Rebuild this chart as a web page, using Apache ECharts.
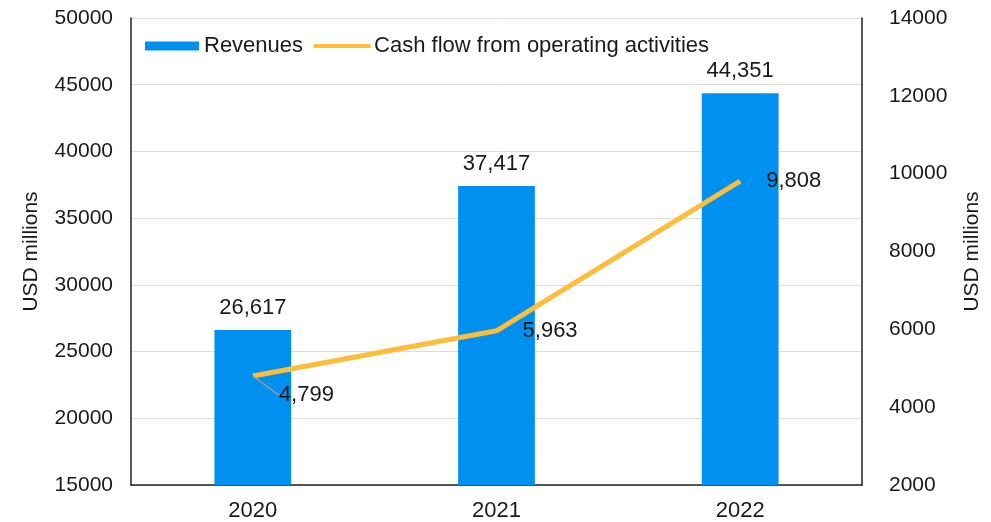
<!DOCTYPE html>
<html>
<head>
<meta charset="utf-8">
<script src="https://cdn.jsdelivr.net/npm/echarts@6/dist/echarts.min.js"></script>
<style>
  html, body { margin: 0; padding: 0; background: #fff; }
  #chart { width: 991px; height: 522px; }
</style>
</head>
<body>
<div id="chart"></div>
<script>
const years = ["2020", "2021", "2022"];
const revenues = [26617, 37417, 44351];
const cashFlow = [4799, 5963, 9808];

const font = "Liberation Sans, Arial, sans-serif";
const fmt = v => v.toLocaleString("en-US");
const txt = "#1a1a1a";

// only the first cash-flow label is pulled down with a leader line
const cashFlowData = cashFlow.map((v, i) => ({
  value: v,
  labelLine: { show: i === 0 }
}));

const chart = echarts.init(document.getElementById("chart"));
chart.setOption({
  animation: false,
  textStyle: { fontFamily: font },
  grid: { left: 131, right: 128, top: 18, bottom: 37 },
  legend: {
    left: 140,
    top: 30,
    itemGap: 10,
    itemWidth: 54,
    itemHeight: 9,
    textStyle: { fontSize: 22, color: txt, fontFamily: font },
    data: [
      { name: "Revenues", icon: "rect" },
      {
        name: "Cash flow from operating activities",
        itemStyle: { opacity: 0 },
        lineStyle: { width: 4, cap: "round" }
      }
    ]
  },
  xAxis: {
    type: "category",
    data: years,
    axisLine: { lineStyle: { color: "#222", width: 1.5 } },
    axisTick: { show: false },
    axisLabel: { fontSize: 22, color: txt, margin: 15 }
  },
  yAxis: [
    {
      type: "value",
      min: 15000,
      max: 50000,
      interval: 5000,
      name: "USD millions",
      nameLocation: "middle",
      nameGap: 89,
      nameTextStyle: { fontSize: 21, color: txt },
      axisLine: { show: true, lineStyle: { color: "#222", width: 1.5 } },
      axisTick: { show: false },
      axisLabel: { fontSize: 21, color: txt, margin: 18, formatter: v => String(v) },
      splitLine: { lineStyle: { color: "#dcdcdc" } }
    },
    {
      type: "value",
      min: 2000,
      max: 14000,
      interval: 2000,
      name: "USD millions",
      nameLocation: "middle",
      nameGap: 100,
      nameRotate: 90,
      nameTextStyle: { fontSize: 21, color: txt },
      axisLine: { show: true, lineStyle: { color: "#222", width: 1.5 } },
      axisTick: { show: false },
      axisLabel: { fontSize: 21, color: txt, margin: 27, formatter: v => String(v) },
      splitLine: { show: false }
    }
  ],
  series: [
    {
      name: "Revenues",
      type: "bar",
      data: revenues,
      barWidth: "31.5%",
      itemStyle: { color: "#0090F0" },
      label: {
        show: true,
        position: "top",
        distance: 11,
        fontSize: 22,
        color: txt,
        formatter: p => fmt(p.value)
      }
    },
    {
      name: "Cash flow from operating activities",
      type: "line",
      yAxisIndex: 1,
      data: cashFlowData,
      symbol: "circle",
      symbolSize: 0.1,
      showSymbol: true,
      lineStyle: { color: "#FDBC3A", width: 5 },
      itemStyle: { color: "#FDBC3A" },
      label: {
        show: true,
        position: "right",
        distance: 26,
        fontSize: 22,
        color: txt,
        formatter: p => fmt(p.value)
      },
      labelLine: { lineStyle: { color: "#999", width: 1.5 } },
      labelLayout: function (params) {
        if (params.dataIndex === 0) return { dx: 0, dy: 19 };
        return {};
      }
    }
  ]
});
</script>
</body>
</html>
